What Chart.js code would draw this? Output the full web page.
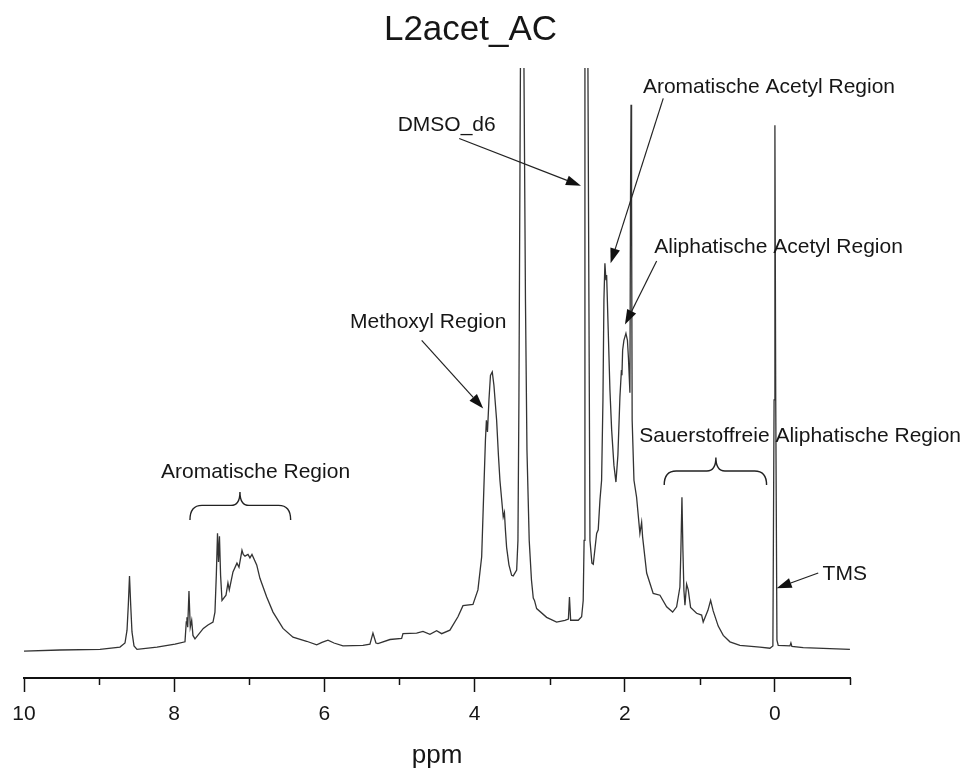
<!DOCTYPE html>
<html>
<head>
<meta charset="utf-8">
<script src="https://cdn.jsdelivr.net/npm/chart.js@4.4.0/dist/chart.umd.min.js"></script>
<style>
  html, body { margin: 0; padding: 0; background: #fff; }
  #wrap { width: 979px; height: 778px; }
</style>
</head>
<body>
<div id="wrap"><canvas id="nmr" width="979" height="778"></canvas></div>
<script>
// chemical shift (ppm) left to right
const shiftPpm = [
  10.000, 9.521, 8.988, 8.722, 8.655, 8.628, 8.611, 8.595, 8.579, 8.562, 8.535, 8.495,
  8.229, 7.989, 7.856, 7.839, 7.830, 7.820, 7.803, 7.786, 7.767, 7.750, 7.723, 7.612,
  7.550, 7.483, 7.457, 7.439, 7.423, 7.410, 7.397, 7.382, 7.363, 7.310, 7.284, 7.266,
  7.217, 7.164, 7.137, 7.097, 7.080, 7.057, 7.017, 6.991, 6.964, 6.901, 6.858, 6.768,
  6.684, 6.551, 6.418, 6.236, 6.102, 6.032, 5.952, 5.872, 5.752, 5.486, 5.393, 5.353,
  5.313, 5.286, 5.126, 4.971, 4.953, 4.771, 4.687, 4.594, 4.505, 4.438, 4.328, 4.221,
  4.154, 4.021, 3.955, 3.905, 3.881, 3.855, 3.842, 3.828, 3.808, 3.788, 3.764, 3.742,
  3.706, 3.682, 3.662, 3.618, 3.602, 3.589, 3.573, 3.542, 3.506, 3.485, 3.439, 3.422,
  3.409, 3.389, 3.365, 3.342, 3.322, 3.302, 3.272, 3.242, 3.218, 3.202, 3.173, 3.040,
  2.907, 2.796, 2.750, 2.736, 2.720, 2.619, 2.574, 2.553, 2.541, 2.530, 2.510, 2.490,
  2.477, 2.463, 2.437, 2.419, 2.374, 2.353, 2.330, 2.308, 2.290, 2.277, 2.264, 2.250,
  2.241, 2.220, 2.197, 2.174, 2.144, 2.117, 2.091, 2.064, 2.044, 2.037, 2.028, 2.011,
  1.984, 1.964, 1.951, 1.931, 1.923, 1.916, 1.909, 1.901, 1.877, 1.842, 1.798, 1.775,
  1.762, 1.708, 1.621, 1.531, 1.442, 1.362, 1.309, 1.265, 1.252, 1.238, 1.225, 1.212,
  1.198, 1.176, 1.154, 1.123, 1.043, 0.976, 0.955, 0.892, 0.856, 0.822, 0.755, 0.688,
  0.599, 0.466, 0.200, 0.067, 0.027, 0.011, 0.000, -0.011, -0.027, -0.044, -0.200, -0.213,
  -0.226, -0.377, -0.999
];
// intensity (arbitrary units), same order; the solvent peaks run off the top
const intensity = [
  0.0, 0.2, 0.3, 0.7, 1.4, 3.6, 7.9, 12.9, 7.9, 3.3, 0.9, 0.3,
  0.7, 1.2, 1.6, 5.0, 5.8, 4.1, 10.3, 4.1, 5.3, 2.7, 2.1, 3.9,
  4.5, 5.0, 6.7, 13.0, 20.2, 15.3, 19.7, 13.0, 8.7, 9.6, 11.7, 10.5,
  13.6, 15.1, 14.4, 17.3, 16.6, 16.3, 16.6, 16.0, 16.6, 14.8, 12.5, 9.3,
  6.7, 3.9, 2.4, 1.7, 1.1, 1.5, 1.9, 1.4, 0.9, 1.0, 1.2, 3.1,
  1.4, 1.3, 2.0, 2.2, 3.0, 3.1, 3.4, 2.9, 3.5, 3.0, 3.6, 5.9,
  7.8, 8.0, 10.5, 16.2, 25.9, 36.2, 39.6, 37.6, 43.1, 47.3, 47.9, 45.6,
  39.6, 33.6, 29.3, 23.0, 23.8, 20.8, 17.8, 14.8, 13.0, 12.9, 13.9, 19.0,
  43.1, 100, 400, 100, 60.2, 34.5, 19.0, 12.2, 9.1, 8.7, 7.3, 5.8,
  5.0, 5.3, 5.5, 9.3, 5.3, 5.3, 5.9, 8.7, 19.0, 100, 400, 100,
  60.2, 19.0, 15.1, 14.9, 20.2, 20.8, 25.9, 29.3, 43.1, 60.2, 66.5, 63.6,
  64.5, 55.1, 44.8, 37.9, 31.9, 29.0, 33.6, 43.6, 48.2, 47.3, 51.6, 53.3,
  54.5, 53.3, 50.4, 44.3, 77.4, 93.7, 77.4, 39.6, 29.3, 26.4, 20.2, 22.1,
  19.6, 13.4, 9.9, 9.6, 7.6, 6.7, 7.6, 11.0, 17.3, 26.4, 17.3, 10.5,
  7.9, 11.5, 10.5, 7.5, 6.5, 6.2, 5.0, 7.0, 8.7, 6.9, 4.3, 2.7,
  1.6, 1.0, 0.7, 0.5, 0.9, 43.1, 90.2, 43.1, 1.9, 1.0, 0.9, 1.4,
  0.8, 0.6, 0.3
];
const labelledTicks = [10, 8, 6, 4, 2, 0];

// annotation texts, anchored in data units (ppm, intensity)
const regionLabels = [
  { text: 'Aromatische Acetyl Region', ppm: 1.758, v: 95.7 },
  { text: 'Aliphatische Acetyl Region', ppm: 1.607, v: 68.3 },
  { text: 'DMSO_d6', ppm: 5.024, v: 89.2 },
  { text: 'Methoxyl Region', ppm: 5.659, v: 55.4 },
  { text: 'Aromatische Region', ppm: 8.176, v: 29.7 },
  { text: 'Sauerstoffreie Aliphatische Region', ppm: 1.807, v: 35.9 },
  { text: 'TMS', ppm: -0.635, v: 12.2 }
];
const arrows = [
  { from: [4.204, 87.9], to: [2.583, 79.8] },
  { from: [1.487, 94.8], to: [2.188, 66.5] },
  { from: [1.575, 66.9], to: [1.997, 56.0] },
  { from: [4.704, 53.3], to: [3.884, 41.6] },
  { from: [-0.577, 13.4], to: [-0.023, 10.8] }
];
const braces = [
  { left: 7.790, right: 6.449, mid: 7.124, end: 22.5, bar: 25.0, tip: 27.3 },
  { left: 1.474, right: 0.111, mid: 0.786, end: 28.5, bar: 30.9, tip: 33.2 }
];

const FONT = '"Liberation Sans", Arial, sans-serif';
const INK = '#161616';

function drawArrow(ctx, x0, y0, x1, y1) {
  const ang = Math.atan2(y1 - y0, x1 - x0);
  const len = 15, half = 5;
  const bx = x1 - len * Math.cos(ang), by = y1 - len * Math.sin(ang);
  ctx.beginPath();
  ctx.moveTo(x0, y0);
  ctx.lineTo(bx, by);
  ctx.stroke();
  ctx.beginPath();
  ctx.moveTo(x1, y1);
  ctx.lineTo(bx + half * Math.sin(ang), by - half * Math.cos(ang));
  ctx.lineTo(bx - half * Math.sin(ang), by + half * Math.cos(ang));
  ctx.closePath();
  ctx.fill();
}

function drawBrace(ctx, xl, xr, xm, yEnd, yBar, yTip) {
  const r = 12, c = 9;
  ctx.beginPath();
  ctx.moveTo(xl, yEnd);
  ctx.quadraticCurveTo(xl, yBar, xl + r, yBar);
  ctx.lineTo(xm - c, yBar);
  ctx.quadraticCurveTo(xm, yBar, xm, yTip);
  ctx.quadraticCurveTo(xm, yBar, xm + c, yBar);
  ctx.lineTo(xr - r, yBar);
  ctx.quadraticCurveTo(xr, yBar, xr, yEnd);
  ctx.stroke();
}

const extras = {
  id: 'extras',
  afterDraw(chart) {
    const { ctx, scales: { x, y } } = chart;
    const px = p => x.getPixelForValue(p);
    const py = v => y.getPixelForValue(v);
    ctx.save();
    // short ticks at odd ppm
    ctx.strokeStyle = '#111';
    ctx.lineWidth = 1.5;
    for (let p = -1; p <= 10; p++) {
      if (p % 2 === 0) continue;
      const xx = Math.round(px(p)) + 0.5;
      ctx.beginPath();
      ctx.moveTo(xx, x.top);
      ctx.lineTo(xx, x.top + 7);
      ctx.stroke();
    }
    // title
    ctx.fillStyle = INK;
    ctx.textAlign = 'center';
    ctx.textBaseline = 'alphabetic';
    ctx.font = '35px ' + FONT;
    ctx.fillText('L2acet_AC', 470.5, 40);
    // labels
    ctx.textAlign = 'left';
    ctx.font = '21px ' + FONT;
    regionLabels.forEach(l => ctx.fillText(l.text, px(l.ppm), py(l.v)));
    // arrows and braces
    ctx.strokeStyle = '#222';
    ctx.fillStyle = '#111';
    ctx.lineWidth = 1.2;
    arrows.forEach(a => drawArrow(ctx, px(a.from[0]), py(a.from[1]), px(a.to[0]), py(a.to[1])));
    ctx.lineWidth = 1.4;
    braces.forEach(b => drawBrace(ctx, px(b.left), px(b.right), px(b.mid), py(b.end), py(b.bar), py(b.tip)));
    ctx.restore();
  }
};

const points = shiftPpm.map((p, i) => ({ x: p, y: intensity[i] }));

new Chart(document.getElementById('nmr'), {
  type: 'line',
  data: {
    datasets: [{
      data: points,
      borderColor: '#333333',
      borderWidth: 1.3,
      pointRadius: 0,
      tension: 0,
      fill: false
    }]
  },
  options: {
    responsive: false,
    animation: false,
    devicePixelRatio: 1,
    layout: { padding: { left: 24, right: 129, top: 68, bottom: 0 } },
    plugins: { legend: { display: false }, tooltip: { enabled: false }, title: { display: false } },
    scales: {
      x: {
        type: 'linear',
        reverse: true,
        min: -1,
        max: 10,
        afterFit: s => { s.height = 100; },
        border: { display: true, color: '#111', width: 2 },
        grid: {
          drawOnChartArea: false,
          drawTicks: true,
          tickLength: 14,
          tickWidth: 1.5,
          tickColor: c => (labelledTicks.includes(c.tick.value) ? '#111' : 'rgba(0,0,0,0)')
        },
        ticks: {
          stepSize: 1,
          autoSkip: false,
          maxRotation: 0,
          padding: 10,
          color: INK,
          font: { family: FONT, size: 21 },
          callback: v => (labelledTicks.includes(v) ? String(v) : '')
        },
        title: {
          display: true,
          text: 'ppm',
          color: INK,
          font: { family: FONT, size: 26 },
          padding: { top: 0, bottom: 7 }
        }
      },
      y: {
        display: false,
        min: -4.6,
        max: 100
      }
    }
  },
  plugins: [extras]
});
</script>
</body>
</html>
